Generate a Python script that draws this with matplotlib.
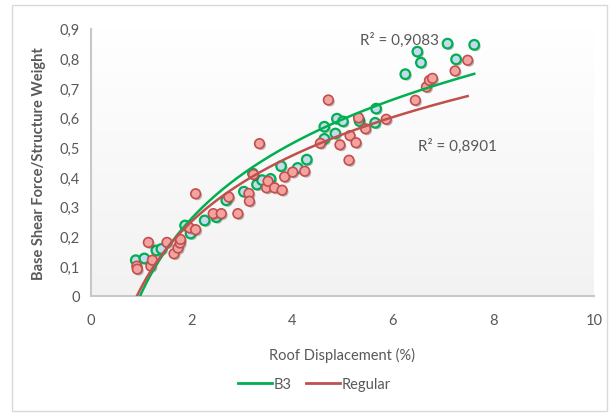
import numpy as np
import matplotlib
matplotlib.use("Agg")
import matplotlib.pyplot as plt
from matplotlib.patches import Rectangle
from matplotlib.lines import Line2D
import matplotlib.patheffects as pe

plt.rcParams['font.family'] = ['Lato', 'DejaVu Sans']

# Pushover points, B3 frame
b3_x = [0.89, 1.06, 1.30, 1.40, 1.87, 1.98, 2.26, 2.49, 2.69, 3.04, 3.22, 3.30,
        3.40, 3.57, 3.78, 4.11, 4.29, 4.64, 4.64, 4.86, 4.89, 5.01, 5.34, 5.65,
        5.67, 6.25, 6.49, 6.56, 7.09, 7.26, 7.62]
b3_y = [0.120, 0.126, 0.153, 0.158, 0.237, 0.210, 0.254, 0.265, 0.322, 0.351, 0.412, 0.375,
        0.390, 0.394, 0.437, 0.431, 0.459, 0.570, 0.529, 0.547, 0.597, 0.588, 0.589, 0.583,
        0.631, 0.747, 0.823, 0.786, 0.850, 0.797, 0.846]

# Pushover points, regular frame
reg_x = [0.91, 0.92, 1.14, 1.19, 1.22, 1.51, 1.65, 1.73, 1.77, 1.78, 1.96, 2.08,
         2.08, 2.43, 2.59, 2.74, 2.92, 3.14, 3.15, 3.23, 3.35, 3.49, 3.52, 3.65,
         3.80, 3.85, 4.01, 4.25, 4.56, 4.72, 4.95, 5.13, 5.15, 5.27, 5.32, 5.46,
         5.87, 6.45, 6.67, 6.73, 6.79, 7.24, 7.49]
reg_y = [0.100, 0.090, 0.180, 0.100, 0.120, 0.180, 0.142, 0.161, 0.178, 0.190, 0.229, 0.223,
         0.344, 0.277, 0.277, 0.333, 0.277, 0.345, 0.319, 0.409, 0.513, 0.364, 0.386, 0.364,
         0.356, 0.401, 0.417, 0.420, 0.514, 0.660, 0.509, 0.457, 0.540, 0.516, 0.600, 0.563,
         0.595, 0.659, 0.704, 0.726, 0.733, 0.758, 0.794]

r2_labels = ["R² = 0,9083", "R² = 0,8901"]
x_ticks = [0, 2, 4, 6, 8, 10]
y_ticks = [0, 0.1, 0.2, 0.3, 0.4, 0.5, 0.6, 0.7, 0.8, 0.9]

GREEN = "#00b050"
RED = "#c0504d"
GRAY = "#595959"

fig = plt.figure(figsize=(6.11, 4.14), dpi=100)
ax = fig.add_axes([0.149, 0.283, 0.823, 0.645])
ax.set_xlim(0, 10)
ax.set_ylim(0, 0.9)

# plot-area gradient (white at top to light gray at bottom)
grad = np.linspace(1.0, 0.0, 256).reshape(-1, 1)
ax.imshow(grad, extent=[0, 10, 0, 0.9], aspect='auto', origin='upper',
          cmap=matplotlib.colors.LinearSegmentedColormap.from_list(
              "bg", ["#f2f2f2", "#ffffff"]), zorder=0)

shadow = [pe.SimplePatchShadow(offset=(1.2, -1.2), alpha=0.35), pe.Normal()]
ax.scatter(b3_x, b3_y, s=48, facecolor="#c6d9f1", edgecolor=GREEN,
           linewidth=1.6, zorder=3, path_effects=shadow)
ax.scatter(reg_x, reg_y, s=48, facecolor="#f4a3a1", edgecolor=RED,
           linewidth=1.2, zorder=4, path_effects=shadow)

# logarithmic trend lines
def log_fit(x, y):
    x = np.asarray(x); y = np.asarray(y)
    a, b = np.polyfit(np.log(x), y, 1)
    xs = np.linspace(x.min(), x.max(), 300)
    return xs, a * np.log(xs) + b

xs, ys = log_fit(b3_x, b3_y)
ax.plot(xs, ys, color=GREEN, lw=1.8, zorder=5)
xs, ys = log_fit(reg_x, reg_y)
ax.plot(xs, ys, color=RED, lw=1.8, zorder=5)

ax.text(5.35, 0.865, r2_labels[0], color=GRAY, fontsize=11, va='center', ha='left')
ax.text(6.5, 0.508, r2_labels[1], color=GRAY, fontsize=11, va='center', ha='left')

for s in ['top', 'right']:
    ax.spines[s].set_visible(False)
for s in ['left', 'bottom']:
    ax.spines[s].set_color("#c8c8c8")
    ax.spines[s].set_linewidth(1.5)

ax.set_xticks(x_ticks)
ax.set_xticklabels([str(v) for v in x_ticks])
ax.set_yticks(y_ticks)
ax.set_yticklabels(["0" if v == 0 else f"{v:.1f}".replace(".", ",") for v in y_ticks])
ax.tick_params(length=0, colors=GRAY, labelsize=10.5)
ax.tick_params(axis='x', pad=12)
ax.tick_params(axis='y', pad=8)

ax.set_xlabel("Roof Displacement (%)", color=GRAY, fontsize=10.5, labelpad=15)
ax.set_ylabel("Base Shear Force/Structure Weight", color=GRAY, fontsize=10.5,
              fontweight='bold', labelpad=10)

handles = [Line2D([], [], color=GREEN, lw=2), Line2D([], [], color=RED, lw=2)]
fig.legend(handles, ["B3", "Regular"], loc='center', bbox_to_anchor=(0.515, 0.07),
           ncol=2, frameon=False, fontsize=10.5, labelcolor=GRAY,
           handlelength=2.3, handletextpad=0.15, columnspacing=1.0)

fig.patches.append(Rectangle((0.019, 0.005), 0.975, 0.98, transform=fig.transFigure,
                             fill=False, edgecolor="#d9d9d9", lw=1))

fig.savefig("out.png", dpi=100)
